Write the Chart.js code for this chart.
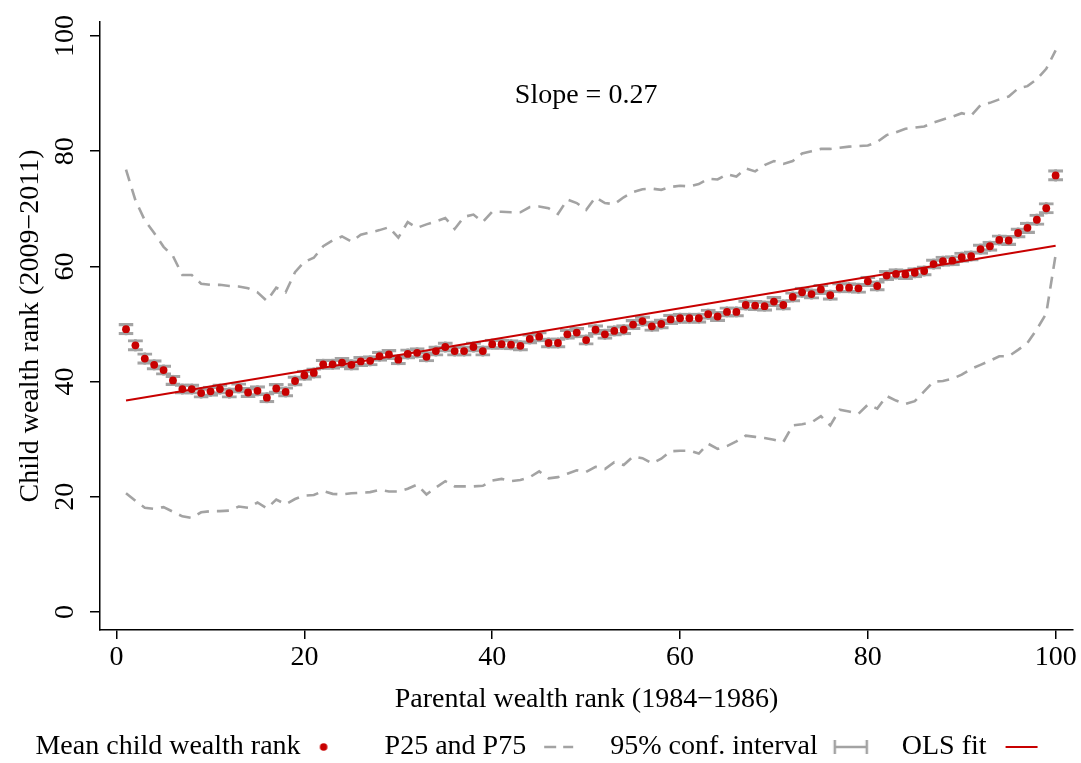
<!DOCTYPE html>
<html>
<head>
<meta charset="utf-8">
<script src="https://cdn.jsdelivr.net/npm/chart.js@4.4.1/dist/chart.umd.min.js"></script>
<style>
  html, body { margin: 0; padding: 0; background: #fff; }
  #wrap { width: 1081px; height: 763px; }
</style>
</head>
<body>
<div id="wrap"><canvas id="chart" width="1081" height="763"></canvas></div>
<script>
"use strict";

// parental wealth rank (x)
const ranks = [
    1, 2, 3, 4, 5, 6, 7, 8, 9, 10, 11, 12, 13, 14, 15, 16, 17, 18, 19, 20,
    21, 22, 23, 24, 25, 26, 27, 28, 29, 30, 31, 32, 33, 34, 35, 36, 37, 38, 39, 40,
    41, 42, 43, 44, 45, 46, 47, 48, 49, 50, 51, 52, 53, 54, 55, 56, 57, 58, 59, 60,
    61, 62, 63, 64, 65, 66, 67, 68, 69, 70, 71, 72, 73, 74, 75, 76, 77, 78, 79, 80,
    81, 82, 83, 84, 85, 86, 87, 88, 89, 90, 91, 92, 93, 94, 95, 96, 97, 98, 99, 100
];

// mean child wealth rank
const meanRank = [
    49.1, 46.3, 44.0, 42.9, 42.0, 40.2, 38.7, 38.7, 38.0, 38.3,
    38.7, 38.0, 38.9, 38.1, 38.4, 37.2, 38.8, 38.2, 40.1, 41.1,
    41.5, 43.0, 43.0, 43.3, 42.9, 43.5, 43.6, 44.4, 44.7, 43.8,
    44.8, 45.0, 44.3, 45.3, 46.0, 45.3, 45.3, 46.0, 45.3, 46.5,
    46.5, 46.4, 46.2, 47.4, 47.8, 46.7, 46.7, 48.2, 48.5, 47.2,
    49.0, 48.2, 48.8, 49.0, 49.9, 50.5, 49.6, 50.0, 50.8, 51.0,
    51.0, 51.0, 51.7, 51.3, 52.1, 52.1, 53.3, 53.2, 53.1, 53.9,
    53.3, 54.7, 55.5, 55.2, 56.0, 55.0, 56.3, 56.3, 56.2, 57.4,
    56.6, 58.4, 58.7, 58.6, 58.9, 59.2, 60.4, 60.9, 61.0, 61.6,
    61.8, 63.0, 63.5, 64.6, 64.5, 65.8, 66.7, 68.1, 70.1, 75.8
];

// half width of the 95% confidence interval
const ciHalf = [
    1.0, 1.0, 1.0, 0.9, 0.9, 0.9, 0.9, 0.9, 0.9, 0.9,
    0.9, 0.9, 0.9, 0.9, 0.9, 0.9, 0.9, 0.9, 0.9, 0.9,
    0.9, 0.9, 0.9, 0.9, 0.9, 0.9, 0.9, 0.9, 0.9, 0.9,
    0.9, 0.9, 0.9, 0.9, 0.9, 0.9, 0.9, 0.9, 0.9, 0.9,
    0.9, 0.9, 0.9, 0.9, 0.9, 0.9, 0.9, 0.9, 0.9, 0.9,
    0.9, 0.9, 0.9, 0.9, 0.9, 0.9, 0.9, 0.9, 0.9, 0.9,
    0.9, 0.9, 0.9, 0.9, 0.9, 0.9, 0.9, 0.9, 0.9, 0.9,
    0.9, 0.9, 0.9, 0.9, 0.9, 0.9, 0.9, 0.9, 0.9, 0.9,
    0.9, 0.9, 0.9, 0.9, 0.9, 0.9, 0.9, 0.9, 0.9, 0.9,
    0.9, 0.9, 0.9, 0.9, 0.9, 0.9, 1.0, 1.0, 1.0, 1.0
];

// 25th percentile
const p25 = [
    20.6, 19.3, 18.1, 17.9, 18.2, 17.4, 16.6, 16.3, 17.3, 17.5,
    17.5, 17.6, 18.3, 18.1, 19.0, 18.0, 19.5, 18.7, 19.6, 20.2,
    20.3, 21.0, 20.5, 20.4, 20.6, 20.7, 20.8, 21.2, 20.9, 20.9,
    21.4, 22.1, 20.4, 21.6, 22.7, 21.8, 21.8, 21.8, 21.9, 22.8,
    23.1, 22.7, 22.9, 23.4, 24.4, 23.2, 23.4, 24.0, 24.6, 24.3,
    25.2, 24.8, 26.0, 25.5, 27.0, 26.7, 25.8, 26.6, 27.9, 28.0,
    28.0, 27.5, 29.2, 28.3, 28.8, 29.6, 30.6, 30.4, 30.2, 29.9,
    29.5, 32.4, 32.6, 32.9, 34.0, 32.4, 35.1, 34.8, 34.4, 36.0,
    35.3, 37.5, 36.7, 36.1, 36.6, 38.3, 40.0, 40.1, 40.5, 41.2,
    42.2, 42.9, 43.6, 44.4, 44.4, 45.5, 46.7, 49.1, 51.8, 62.0
];

// 75th percentile
const p75 = [
    76.8, 71.5, 68.0, 65.8, 63.4, 61.8, 58.5, 58.5, 57.0, 56.8,
    56.8, 56.6, 56.5, 56.2, 55.5, 54.0, 56.3, 55.5, 59.0, 60.8,
    61.5, 63.5, 64.5, 65.2, 64.3, 65.5, 65.9, 66.3, 66.8, 65.0,
    67.7, 66.7, 67.3, 67.8, 68.4, 66.5, 68.6, 69.0, 67.7, 69.5,
    69.5, 69.4, 69.4, 70.3, 70.4, 70.1, 69.1, 71.6, 71.0, 69.8,
    72.0, 71.0, 70.8, 72.0, 72.9, 73.4, 73.5, 73.3, 73.8, 74.0,
    73.9, 74.3, 75.2, 75.1, 76.0, 75.6, 77.0, 76.5, 77.6, 78.3,
    77.8, 78.3, 79.6, 80.0, 80.4, 80.4, 80.6, 80.8, 80.9, 81.0,
    81.6, 82.8, 83.3, 83.9, 84.1, 84.3, 85.0, 85.5, 86.0, 86.6,
    86.2, 88.0, 88.4, 89.0, 89.5, 90.9, 91.3, 92.5, 94.3, 97.5
];

// OLS fit end points
const olsX = [1, 100];
const olsY = [36.7, 63.6];

const xTicks = [0, 20, 40, 60, 80, 100];
const yTicks = [0, 20, 40, 60, 80, 100];

const slopeText = 'Slope = 0.27';
const slopeAt = { x: 50, y: 89.7 };

const RED = '#c80000';
const GRAY = '#a3a3a3';
const FONT = '"Liberation Serif", "Times New Roman", serif';
const BOX_W = 62;

/**----------------------------------------------------------------------
 * [small canvases used as legend symbols]
 *--------------------------------------------------------------*/
function legendIcon(draw) {
    const c = document.createElement('canvas');
    c.width = BOX_W;
    c.height = 20;
    const g = c.getContext('2d');
    draw(g);
    return c;
}

const iconDot = legendIcon(function(g) {
    g.fillStyle = RED;
    g.beginPath();
    g.arc(9, 10, 3.8, 0, Math.PI * 2);
    g.fill();
});

const iconDash = legendIcon(function(g) {
    g.strokeStyle = GRAY;
    g.lineWidth = 2.6;
    g.beginPath();
    g.moveTo(4, 10); g.lineTo(16, 10);
    g.moveTo(23, 10); g.lineTo(33, 10);
    g.stroke();
});

const iconCap = legendIcon(function(g) {
    g.strokeStyle = GRAY;
    g.lineWidth = 2.5;
    g.beginPath();
    g.moveTo(3, 10); g.lineTo(35, 10);
    g.moveTo(3, 3); g.lineTo(3, 17);
    g.moveTo(35, 3); g.lineTo(35, 17);
    g.stroke();
});

const iconLine = legendIcon(function(g) {
    g.strokeStyle = RED;
    g.lineWidth = 2;
    g.beginPath();
    g.moveTo(5, 10); g.lineTo(37, 10);
    g.stroke();
});

const legendEntries = [
    { text: 'Mean child wealth rank', icon: iconDot },
    { text: 'P25 and P75', icon: iconDash },
    { text: '95% conf. interval', icon: iconCap },
    { text: 'OLS fit', icon: iconLine }
];

/**----------------------------------------------------------------------
 * [writes "Slope = 0.27" inside the plot]
 *--------------------------------------------------------------*/
const slopeLabelPlugin = {
    id: 'slopeLabel',
    afterDatasetsDraw(chart) {
        const ctx = chart.ctx;
        ctx.save();
        ctx.font = '28px ' + FONT;
        ctx.fillStyle = '#000';
        ctx.textAlign = 'center';
        ctx.textBaseline = 'middle';
        ctx.fillText(slopeText, chart.scales.x.getPixelForValue(slopeAt.x), chart.scales.y.getPixelForValue(slopeAt.y));
        ctx.restore();
    }
};

function build() {
    const pts = function(ys) {
        return ranks.map(function(r, i) { return { x: r, y: ys[i] }; });
    };
    const ciData = ranks.map(function(r, i) {
        return { x: r, y: [meanRank[i] - ciHalf[i], meanRank[i] + ciHalf[i]] };
    });

    const axisFont = { family: FONT, size: 28 };

    new Chart(document.getElementById('chart').getContext('2d'), {
        type: 'line',
        data: {
            datasets: [
                {
                    type: 'line',
                    label: 'P75',
                    data: pts(p75),
                    borderColor: GRAY,
                    borderWidth: 2.6,
                    borderDash: [12, 8],
                    pointRadius: 0,
                    fill: false,
                    order: 6
                },
                {
                    type: 'line',
                    label: 'P25',
                    data: pts(p25),
                    borderColor: GRAY,
                    borderWidth: 2.6,
                    borderDash: [12, 8],
                    pointRadius: 0,
                    fill: false,
                    order: 5
                },
                {
                    type: 'bar',
                    label: 'ci stem',
                    data: ciData,
                    backgroundColor: GRAY,
                    borderWidth: 0,
                    barThickness: 2,
                    grouped: false,
                    order: 4
                },
                {
                    type: 'bar',
                    label: 'ci caps',
                    data: ciData,
                    backgroundColor: 'rgba(0,0,0,0)',
                    borderColor: GRAY,
                    borderWidth: { top: 2.5, bottom: 2.5, left: 0, right: 0 },
                    borderSkipped: false,
                    barThickness: 15,
                    grouped: false,
                    order: 3
                },
                {
                    type: 'line',
                    label: 'Mean child wealth rank',
                    data: pts(meanRank),
                    showLine: false,
                    pointRadius: 3.9,
                    pointBackgroundColor: RED,
                    pointBorderWidth: 0,
                    order: 2
                },
                {
                    type: 'line',
                    label: 'OLS fit',
                    data: olsX.map(function(x, i) { return { x: x, y: olsY[i] }; }),
                    borderColor: RED,
                    borderWidth: 2,
                    pointRadius: 0,
                    fill: false,
                    order: 1
                }
            ]
        },
        options: {
            responsive: false,
            animation: false,
            events: [],
            layout: {
                padding: { top: 22, right: 8, bottom: -8, left: 25 }
            },
            plugins: {
                tooltip: { enabled: false },
                legend: {
                    position: 'bottom',
                    rtl: true,
                    textDirection: 'ltr',
                    reverse: true,
                    labels: {
                        usePointStyle: true,
                        pointStyleWidth: BOX_W,
                        boxHeight: 28,
                        padding: 8,
                        color: '#000',
                        font: axisFont,
                        generateLabels: function() {
                            return legendEntries.map(function(e, i) {
                                return {
                                    text: e.text,
                                    pointStyle: e.icon,
                                    fillStyle: 'rgba(0,0,0,0)',
                                    strokeStyle: 'rgba(0,0,0,0)',
                                    lineWidth: 0,
                                    hidden: false,
                                    datasetIndex: i
                                };
                            });
                        }
                    }
                }
            },
            scales: {
                x: {
                    type: 'linear',
                    min: -1.77,
                    max: 101.85,
                    offset: false,
                    afterBuildTicks: function(s) { s.ticks = xTicks.map(function(v) { return { value: v }; }); },
                    afterFit: function(s) { s.height = 95; },
                    grid: { display: true, offset: false, drawOnChartArea: false, drawTicks: true, tickLength: 9, color: '#000', lineWidth: 1.5 },
                    border: { display: true, color: '#000', width: 1.5 },
                    ticks: { color: '#000', font: axisFont, padding: 2, maxRotation: 0, autoSkip: false },
                    title: {
                        display: true,
                        text: 'Parental wealth rank (1984\u22121986)',
                        color: '#000',
                        font: axisFont,
                        padding: { top: 0, bottom: 9 }
                    }
                },
                y: {
                    type: 'linear',
                    min: -3.14,
                    max: 102.44,
                    afterBuildTicks: function(s) { s.ticks = yTicks.map(function(v) { return { value: v }; }); },
                    afterFit: function(s) { s.width = 75; },
                    grid: { display: true, drawOnChartArea: false, drawTicks: true, tickLength: 10, color: '#000', lineWidth: 1.5 },
                    border: { display: true, color: '#000', width: 1.5 },
                    ticks: { color: '#000', font: axisFont, padding: 3, minRotation: 90, maxRotation: 90, crossAlign: 'center', autoSkip: false },
                    title: {
                        display: true,
                        text: 'Child wealth rank (2009\u22122011)',
                        color: '#000',
                        font: axisFont,
                        padding: { top: -11, bottom: 0 }
                    }
                }
            }
        },
        plugins: [slopeLabelPlugin]
    });
}

document.fonts.load('28px "Liberation Serif"').then(build, build);
</script>
</body>
</html>
